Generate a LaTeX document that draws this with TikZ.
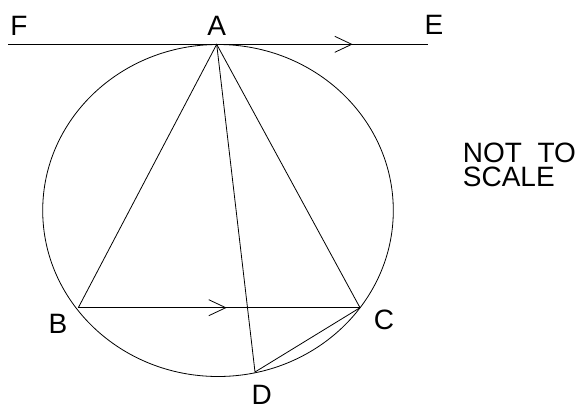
\documentclass[tikz,border=0pt]{standalone}
\usepackage{fontspec}
\setmainfont{Liberation Sans}
\usetikzlibrary{arrows.meta,decorations.markings}

\begin{document}
\begin{tikzpicture}[x=1pt, y=-1pt,
    geo/.style={draw=black, line width=0.8pt},
    ptlabel/.style={inner sep=0pt, font=\fontsize{28}{24}\selectfont},
    parallel/.style={postaction={decorate}, decoration={markings, mark=at position #1 with {\arrow{Straight Barb[length=17pt,width=16pt]}}}}]
    \useasboundingbox (0,0) rectangle (583,405);

    % points on the circle
    \coordinate (A) at (216.7,44.3);
    \coordinate (B) at (78.3,307.7);
    \coordinate (C) at (360,307.7);
    \coordinate (D) at (255,372);
    \coordinate (F) at (8,44.3);
    \coordinate (E) at (428.3,44.3);

    \draw [geo] (218,210.5) ellipse [x radius=175.3, y radius=166];

    % tangent and chords
    \draw [geo, parallel=344.7pt] (F) -- (E);
    \draw [geo, parallel=148.4pt] (B) -- (C);
    \draw [geo] (B) -- (A) -- (C);
    \draw [geo] (A) -- (D) -- (C);

    \node [ptlabel] (lA) at (216.7,26) {A};
    \node [ptlabel] (lF) at (19,26) {F};
    \node [ptlabel] (lE) at (434,25) {E};
    \node [ptlabel] (lB) at (58,324) {B};
    \node [ptlabel] (lC) at (384,320) {C};
    \node [ptlabel] (lD) at (261.7,394.7) {D};
    \node [ptlabel, align=left, anchor=north west] (note) at (462.7,142.7) {NOT\ \ TO\\SCALE};
\end{tikzpicture}
\end{document}
